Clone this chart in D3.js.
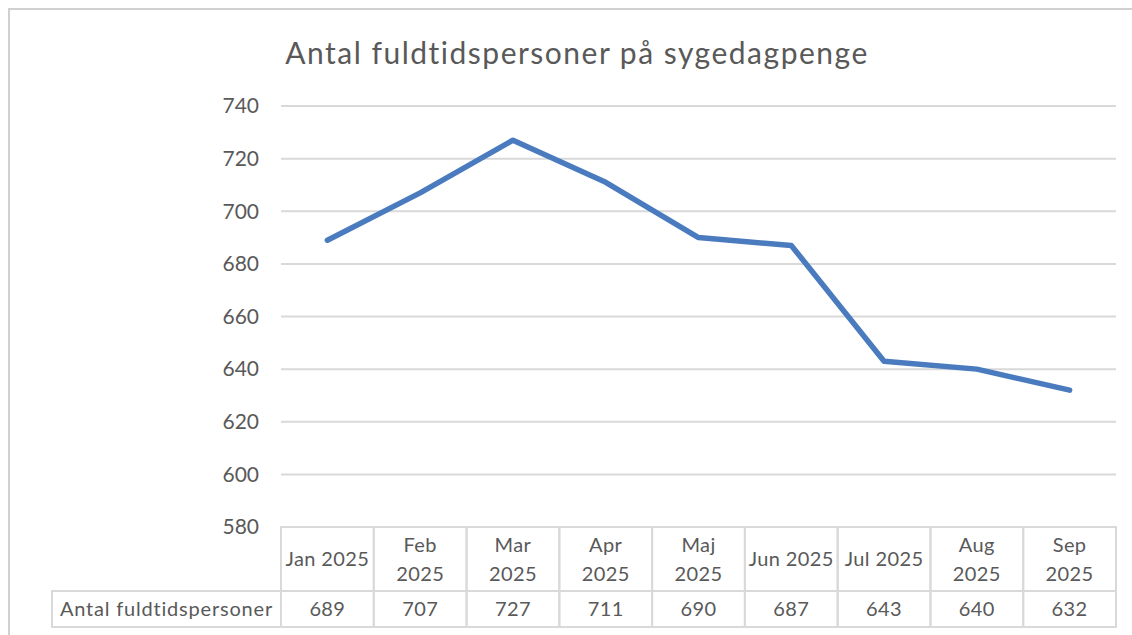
<!DOCTYPE html>
<html>
<head>
<meta charset="utf-8">
<script src="https://cdn.jsdelivr.net/npm/d3@7"></script>
<style>
  body { margin: 0; background: #fff; }
  svg { display: block; font-family: Lato, "Open Sans", sans-serif; }
  .grid line { stroke: #d9d9d9; stroke-width: 2; }
  .tick-label { fill: #595959; font-size: 21px; }
  .cell { fill: none; stroke: #d9d9d9; stroke-width: 2; }
  .cell-text { fill: #595959; font-size: 20px; letter-spacing: 0.4px; }
</style>
</head>
<body>
<svg id="chart" width="1132" height="635"></svg>
<script>
// chart data
var title = 'Antal fuldtidspersoner på sygedagpenge';
var seriesName = 'Antal fuldtidspersoner';
var months = ['Jan 2025', 'Feb\n2025', 'Mar\n2025', 'Apr\n2025', 'Maj\n2025',
              'Jun 2025', 'Jul 2025', 'Aug\n2025', 'Sep\n2025'];
var values = [689, 707, 727, 711, 690, 687, 643, 640, 632];
var yTicks = [580, 600, 620, 640, 660, 680, 700, 720, 740];

var svg = d3.select('#chart');

var plot = { left: 281, right: 1116, top: 106, bottom: 527 };
var headerBottom = 591, tableBottom = 627, labelLeft = 52;

// outer frame (only top/left edges are visible in the crop)
svg.append('path')
    .attr('d', 'M9,635 V9 H1132')
    .attr('fill', 'none')
    .attr('stroke', '#d0d0d0')
    .attr('stroke-width', 2);

svg.append('text')
    .attr('x', 577).attr('y', 64)
    .attr('text-anchor', 'middle')
    .attr('fill', '#595959')
    .style('font-size', '30px')
    .style('letter-spacing', '1.5px')
    .text(title);

var x = d3.scaleBand()
    .domain(months)
    .range([plot.left, plot.right]);

var y = d3.scaleLinear()
    .domain([580, 740])
    .range([plot.bottom, plot.top]);

var grid = svg.append('g').attr('class', 'grid');
grid.selectAll('line')
    .data(yTicks.slice(1))
    .enter()
    .append('line')
    .attr('x1', plot.left).attr('x2', plot.right)
    .attr('y1', function(d){ return y(d); })
    .attr('y2', function(d){ return y(d); });

svg.append('g')
    .selectAll('text')
    .data(yTicks)
    .enter()
    .append('text')
    .attr('class', 'tick-label')
    .attr('x', 259)
    .attr('y', function(d){ return y(d); })
    .attr('dy', '0.35em')
    .attr('text-anchor', 'end')
    .text(function(d){ return d; });

var line = d3.line()
    .x(function(d, i){ return x(months[i]) + x.bandwidth() / 2; })
    .y(function(d){ return y(d); });

svg.append('path')
    .datum(values)
    .attr('d', line)
    .attr('fill', 'none')
    .attr('stroke', '#4a7bbf')
    .attr('stroke-width', 5.5)
    .attr('stroke-linejoin', 'round')
    .attr('stroke-linecap', 'round');

// data table
var table = svg.append('g');

table.append('rect')
    .attr('class', 'cell')
    .attr('x', labelLeft).attr('y', headerBottom)
    .attr('width', plot.left - labelLeft)
    .attr('height', tableBottom - headerBottom);

table.append('text')
    .attr('class', 'cell-text')
    .style('letter-spacing', '0.8px')
    .attr('x', (labelLeft + plot.left) / 2)
    .attr('y', (headerBottom + tableBottom) / 2)
    .attr('dy', '0.35em')
    .attr('text-anchor', 'middle')
    .text(seriesName);

var cols = table.selectAll('.col')
    .data(months)
    .enter()
    .append('g')
    .attr('class', 'col');

cols.append('rect')
    .attr('class', 'cell')
    .attr('x', function(d){ return x(d); })
    .attr('y', plot.bottom)
    .attr('width', x.bandwidth())
    .attr('height', headerBottom - plot.bottom);

cols.append('rect')
    .attr('class', 'cell')
    .attr('x', function(d){ return x(d); })
    .attr('y', headerBottom)
    .attr('width', x.bandwidth())
    .attr('height', tableBottom - headerBottom);

cols.each(function(d){
    var lines = d.split('\n');
    var cx = x(d) + x.bandwidth() / 2;
    var mid = (plot.bottom + headerBottom) / 2;
    var lh = 29;
    var t = d3.select(this).append('text')
        .attr('class', 'cell-text')
        .attr('text-anchor', 'middle');
    lines.forEach(function(s, i){
        t.append('tspan')
            .attr('x', cx)
            .attr('y', mid + (i - (lines.length - 1) / 2) * lh)
            .attr('dy', '0.35em')
            .text(s);
    });
});

cols.append('text')
    .attr('class', 'cell-text')
    .attr('x', function(d){ return x(d) + x.bandwidth() / 2; })
    .attr('y', (headerBottom + tableBottom) / 2)
    .attr('dy', '0.35em')
    .attr('text-anchor', 'middle')
    .text(function(d, i){ return values[i]; });
</script>
</body>
</html>
